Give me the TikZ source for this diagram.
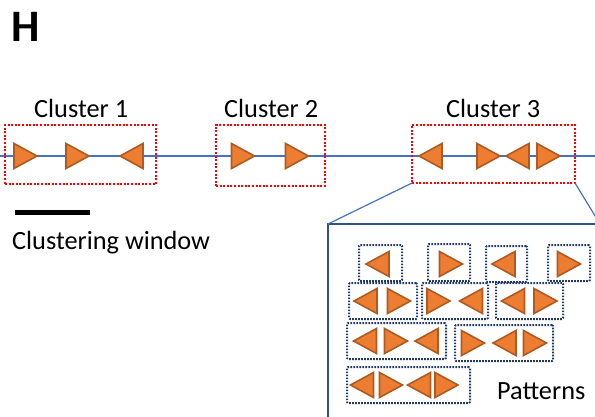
\documentclass[tikz,border=0pt]{standalone}
\usepackage{fontspec}
\setmainfont{Carlito}
\definecolor{triFill}{HTML}{ED7D31}
\definecolor{triEdge}{HTML}{AE5A21}
\definecolor{lineBlue}{HTML}{4472C4}
\definecolor{boxBlue}{HTML}{2F528F}
\definecolor{navy}{HTML}{1F3864}
\definecolor{dotRed}{HTML}{FF0000}
\tikzset{
  tri/.style={fill=triFill,draw=triEdge,line width=1.6pt,line join=miter},
  tR/.pic={\draw[tri] (-11.5,-12.5) -- (11.5,0) -- (-11.5,12.5) -- cycle;},
  tL/.pic={\draw[tri] (11.5,-12.5) -- (-11.5,0) -- (11.5,12.5) -- cycle;},
  cbox/.style={draw=dotRed,line width=2pt,dash pattern=on 2pt off 1.6pt,inner sep=0pt,outer sep=0pt},
  pdot/.style={draw=navy,line width=2pt,dash pattern=on 1.6pt off 1.4pt,inner sep=0pt,outer sep=0pt,rounded corners=1pt},
  pbox/.style={draw=boxBlue,line width=2.5pt,inner sep=0pt,outer sep=0pt},
  conn/.style={draw=lineBlue,line width=1.2pt},
  lbl/.style={font=\fontsize{26.3}{30}\selectfont,inner sep=0pt,anchor=base west},
}
\begin{document}
\begin{tikzpicture}[x=1pt,y=-1pt]
\useasboundingbox (0,0) rectangle (595,416);
\clip (0,0) rectangle (595,416);
% title
\node[font=\bfseries\fontsize{45}{50}\selectfont,inner sep=0pt,anchor=base west] (title) at (11,41) {H};
% main line
\coordinate (lstart) at (0,156);
\coordinate (lend) at (595,156);
\draw[conn] (lstart) -- (lend);
% clusters
\node[cbox,minimum width=151pt,minimum height=59pt] (c1) at (80.5,154.5) {};
\node[cbox,minimum width=109pt,minimum height=61pt] (c2) at (270.5,155.5) {};
\node[cbox,minimum width=163pt,minimum height=58pt] (c3) at (493.5,154) {};
\node[lbl] (l1) at (34,117) {Cluster 1};
\node[lbl] (l2) at (224,117) {Cluster 2};
\node[lbl] (l3) at (446,117) {Cluster 3};
\pic at (25.5,156) {tR};
\pic at (77.5,156) {tR};
\pic at (131.5,156) {tL};
\pic at (243,156) {tR};
\pic at (297,156) {tR};
\pic at (430.5,156) {tL};
\pic at (488.5,156) {tR};
\pic at (517.5,156) {tL};
\pic at (548.5,156) {tR};
% clustering window
\coordinate (w1) at (15,212);
\coordinate (w2) at (90,212);
\draw[line width=5pt] (w1) -- (w2);
\node[lbl] (cw) at (12,249) {Clustering window};
% patterns box
\node[pbox,minimum width=272pt,minimum height=210pt,anchor=north west] (pat) at (328,224) {};
\draw[conn] (c3.south west) -- (pat.north west);
\draw[conn] (c3.south east) -- (pat.north east);
% pattern boxes
\node[pdot,minimum width=43pt,minimum height=36pt] (b1) at (380.5,263) {};
\node[pdot,minimum width=42pt,minimum height=37pt] (b2) at (449,262.5) {};
\node[pdot,minimum width=41pt,minimum height=36pt] (b3) at (506.5,264) {};
\node[pdot,minimum width=42pt,minimum height=36pt] (b4) at (569,263) {};
\node[pdot,minimum width=68pt,minimum height=36pt] (b5) at (383,301) {};
\node[pdot,minimum width=66pt,minimum height=36pt] (b6) at (455,301) {};
\node[pdot,minimum width=67pt,minimum height=36pt] (b7) at (529.5,301) {};
\node[pdot,minimum width=99pt,minimum height=36pt] (b8) at (396.5,341) {};
\node[pdot,minimum width=98pt,minimum height=36pt] (b9) at (504,343) {};
\node[pdot,minimum width=123pt,minimum height=36pt] (b10) at (408.5,385) {};
% pattern triangles
\pic at (377.5,264) {tL};
\pic at (451,264) {tR};
\pic at (503.5,264) {tL};
\pic at (569,264) {tR};
\pic at (365.5,301) {tL};
\pic at (399,301) {tR};
\pic at (438.5,301) {tR};
\pic at (471,301) {tL};
\pic at (513,301) {tL};
\pic at (545.5,301) {tR};
\pic at (365,341) {tL};
\pic at (396,341) {tR};
\pic at (426.5,341) {tL};
\pic at (473,343) {tR};
\pic at (504.5,343) {tL};
\pic at (535,343) {tR};
\pic at (362,385) {tL};
\pic at (391,385) {tR};
\pic at (419,385) {tL};
\pic at (446.5,385) {tR};
\node[lbl] (pl) at (497,399) {Patterns};
\end{tikzpicture}
\end{document}
